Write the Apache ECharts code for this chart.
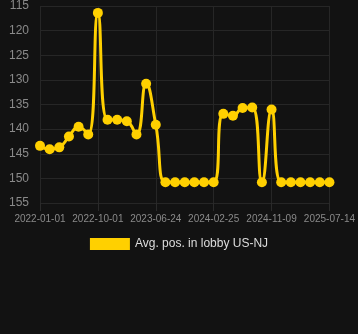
<!DOCTYPE html>
<html><head><meta charset="utf-8">
<script src="https://cdn.jsdelivr.net/npm/echarts@6/dist/echarts.min.js"></script>
<style>html,body{margin:0;padding:0;background:#121212;}#c{width:358px;height:334px;}</style>
</head><body><div id="c"></div>
<script>
const categories = ["2022-01-01","2022-02-15","2022-04-02","2022-05-17","2022-07-02","2022-08-16","2022-10-01","2022-11-15","2022-12-30","2023-02-13","2023-03-30","2023-05-10","2023-06-24","2023-08-04","2023-09-14","2023-10-25","2023-12-05","2024-01-15","2024-02-25","2024-04-08","2024-05-21","2024-07-03","2024-08-15","2024-09-27","2024-11-09","2024-12-20","2025-01-30","2025-03-12","2025-04-22","2025-06-02","2025-07-14"];
const positions = [143.4,144.1,143.7,141.5,139.5,141.1,116.4,138.1,138.1,138.4,141.1,130.8,139.1,150.8,150.8,150.8,150.8,150.8,150.8,136.9,137.3,135.7,135.6,150.8,136.0,150.8,150.8,150.8,150.8,150.8,150.8];
const seriesName = "Avg. pos. in lobby US-NJ";
const chart = echarts.init(document.getElementById('c'), null, {renderer:'canvas'});
chart.setOption({
  backgroundColor:'#121212',
  animation:false,
  grid:{left:40,right:28,top:6,bottom:131},
  legend:{bottom:79,left:'center',itemWidth:40,itemHeight:12,itemGap:6,
    textStyle:{color:'#dddddd',fontSize:12,fontFamily:'Liberation Sans, Arial, sans-serif'},
    data:[{name:seriesName,icon:'rect'}]},
  xAxis:{type:'category',data:categories,boundaryGap:false,
    axisLine:{show:false},
    axisTick:{show:true,interval:5,length:8,lineStyle:{color:'#2a2a2a'}},
    axisLabel:{interval:5,color:'#8a8a8a',fontSize:10,margin:11,fontFamily:'Liberation Sans, Arial, sans-serif'},
    splitLine:{show:true,interval:5,lineStyle:{color:'#262626'}}},
  yAxis:{type:'value',inverse:true,min:115,max:155,interval:5,
    axisLine:{show:false},axisTick:{show:false},
    axisLabel:{color:'#8a8a8a',fontSize:12,margin:11,fontFamily:'Liberation Sans, Arial, sans-serif'},
    splitLine:{lineStyle:{color:'#262626'}}},
  series:[{name:seriesName,type:'line',data:positions,smooth:true,
    showAllSymbol:true,symbol:'circle',symbolSize:10,
    lineStyle:{color:'#FFD000',width:3},
    itemStyle:{color:'#FFD000'}}]
});
</script></body></html>
